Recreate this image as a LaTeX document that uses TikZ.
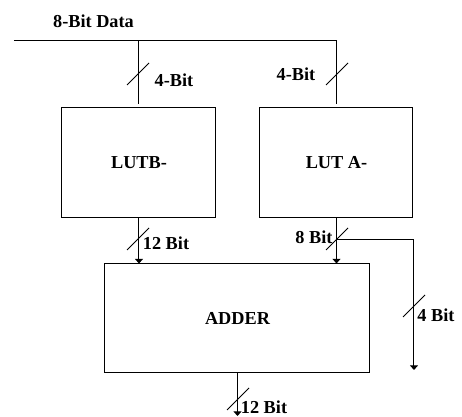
\documentclass[tikz,border=0pt]{standalone}
\usepackage{fontspec}
\setmainfont{Liberation Serif}
\usetikzlibrary{arrows.meta}

\tikzset{
  blk/.style={draw,line width=.75pt,inner sep=0pt,minimum height=82.5pt,
    font=\bfseries\fontsize{13.7}{16}\selectfont},
  lbl/.style={font=\bfseries\fontsize{13.7}{16}\selectfont,inner sep=0pt},
  wire/.style={line width=.75pt},
  arr/.style={wire,-{Triangle[length=3.5pt,width=6pt]}},
  tick/.style={line width=.7pt},
}

\begin{document}
\begin{tikzpicture}[x=.75pt,y=-.75pt]
  \useasboundingbox (0,0) rectangle (462,417);
  % blocks
  \node[blk,minimum width=115.5pt] (lutb) at (139,162.5) {LUTB-};
  \node[blk,minimum width=114.75pt] (luta) at (336.5,162.5) {LUT A-};
  \node[blk,minimum width=198.75pt,minimum height=81.75pt] (adder) at (237.5,318.5) {ADDER};
  % input bus
  \coordinate (busL) at (14,41);
  \coordinate (busR) at (luta.north |- busL);
  \draw[wire,shorten >=2.25pt] (busL) -- (busR) -- (luta.north);
  \draw[wire,shorten >=2.25pt] (lutb.north |- busL) -- (lutb.north);
  % lut outputs
  \draw[arr] (lutb.south) -- (lutb.south |- adder.north);
  \draw[arr] (luta.south) -- (luta.south |- adder.north);
  \coordinate (split) at (luta.south |- 0,240);
  \coordinate (turn) at (414,240);
  \coordinate (fend) at (414,370);
  \draw[arr] (split) -- (turn) -- (fend);
  % adder output
  \coordinate (out) at (adder.south |- 0,416);
  \draw[arr] (adder.south) -- (out);
  % bus width marks
  \coordinate (t1) at (138,74);
  \coordinate (t2) at (337,74);
  \coordinate (t3) at (138,239);
  \coordinate (t4) at (337,239);
  \coordinate (t5) at (414,306);
  \coordinate (t6) at (238,399);
  \foreach \t in {t1,t2,t3,t4,t5,t6}
    \draw[tick] (\t) ++(-11,11) -- ++(22,-22);
  % labels
  \node[lbl] (data) at (93.5,21) {8-Bit Data};
  \node[lbl] (wb) at (174,80) {4-Bit};
  \node[lbl] (wa) at (296,74) {4-Bit};
  \node[lbl] (sb) at (166,243) {12 Bit};
  \node[lbl] (sa) at (314,237) {8 Bit};
  \node[lbl] (sf) at (436,315) {4 Bit};
  \node[lbl] (so) at (264,407) {12 Bit};
\end{tikzpicture}
\end{document}
